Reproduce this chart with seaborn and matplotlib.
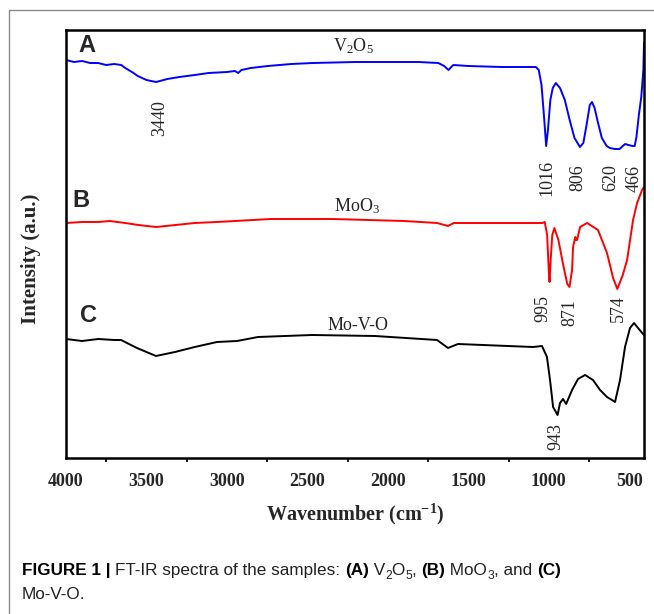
import numpy as np
import pandas as pd
import matplotlib
matplotlib.use("Agg")
import matplotlib.pyplot as plt
import seaborn as sns
from matplotlib.lines import Line2D

# ---------------- data (intensity in arbitrary units) ----------------
wn_A = [4000, 3950, 3900, 3850, 3800, 3750, 3700, 3657, 3632, 3590, 3554, 3500, 3440, 3370,
        3295, 3200, 3114, 3000, 2950, 2930, 2910, 2852, 2746, 2600, 2465, 2203, 2000, 1810,
        1686, 1650, 1623, 1600, 1592, 1500, 1293, 1137, 1080, 1062, 1045, 1030, 1016, 1005,
        990, 975, 956, 930, 900, 870, 840, 806, 785, 765, 745, 731, 715, 695, 670, 640, 620,
        590, 560, 540, 525, 505, 480, 466, 455, 440, 425, 412, 408]
int_A = [398, 396, 397, 395, 395, 393, 394, 393, 390, 386, 382, 378, 376, 379,
         381, 383, 385, 386, 387, 385, 388, 390, 392, 394, 395, 396, 396, 396,
         395, 392, 388, 392, 393, 392, 391, 391, 391, 388, 373, 343, 312, 328,
         358, 370, 375, 370, 358, 338, 320, 311, 315, 333, 353, 356, 350, 336, 320, 312, 310,
         309, 309, 312, 314, 313, 312, 312, 321, 343, 361, 388, 415]

wn_B = [4000, 3900, 3800, 3727, 3632, 3550, 3440, 3320, 3200, 3062, 2726, 2341, 1900, 1694,
        1626, 1590, 1300, 1040, 1025, 1010, 1000, 995, 988, 978, 965, 940, 910, 885, 871,
        855, 849, 835, 830, 824, 805, 762, 694, 638, 600, 574, 540, 513, 476, 451, 420, 408]
int_B = [235, 236, 236, 237, 235, 233, 231, 233, 235, 236, 239, 239, 237, 235,
         232, 235, 235, 235, 236, 223, 188, 176, 198, 223, 230, 218, 193, 174, 171,
         188, 211, 221, 218, 218, 231, 235, 228, 205, 180, 169, 183, 198, 238, 255, 268, 271]

wn_C = [4000, 3900, 3800, 3700, 3658, 3559, 3441, 3323, 3200, 3062, 2937, 2807, 2471, 2080,
        1694, 1626, 1564, 1098, 1042, 1011, 992, 973, 945, 930, 911, 892, 855, 818, 774,
        725, 681, 638, 607, 588, 557, 526, 495, 470, 445, 414, 408]
int_C = [119, 117, 119, 118, 118, 110, 102, 106, 111, 116, 117, 121, 123, 122,
         118, 110, 114, 111, 112, 101, 78, 51, 43, 55, 59, 54, 68, 79, 83,
         78, 68, 61, 58, 56, 78, 111, 130, 135, 130, 124, 123]

series_names = ["V$_2$O$_5$", "MoO$_3$", "Mo-V-O"]
panel_letters = ["A", "B", "C"]
line_colors = ["#0000ff", "#ff0000", "#000000"]
x_ticks = [4000, 3500, 3000, 2500, 2000, 1500, 1000, 500]

peak_labels = [("3440", 3416, 340), ("1016", 1014, 280), ("806", 820, 280),
               ("620", 614, 280), ("466", 470, 280),
               ("995", 1035, 149), ("871", 868, 145), ("574", 569, 149),
               ("943", 955, 22)]

# ---------------- style ----------------
sns.set_theme(style="white")
plt.rcParams["font.family"] = ["Liberation Serif", "DejaVu Serif"]
plt.rcParams["mathtext.fontset"] = "custom"
plt.rcParams["mathtext.rm"] = "Liberation Serif"
plt.rcParams["mathtext.it"] = "Liberation Serif:italic"
plt.rcParams["mathtext.bf"] = "Liberation Serif:bold"

W, H = 654, 614
fig = plt.figure(figsize=(W / 100, H / 100), dpi=100)
L, R, T, B = 66, 644, 30, 458
ax = fig.add_axes([L / W, 1 - B / H, (R - L) / W, (B - T) / H])

for wn, yv, c in zip([wn_A, wn_B, wn_C], [int_A, int_B, int_C], line_colors):
    df = pd.DataFrame({"wn": wn, "I": yv})
    sns.lineplot(data=df, x="wn", y="I", color=c, linewidth=1.4, ax=ax, sort=False)

ax.set_xlim(4000, 408)
ax.set_ylim(0, 428)
ax.set_yticks([])
ax.set_xticks(x_ticks)
ax.set_xticklabels([str(t) for t in x_ticks], fontsize=13, fontweight="bold")
ax.xaxis.set_minor_locator(matplotlib.ticker.MultipleLocator(250))
ax.tick_params(axis="x", which="major", direction="out", length=6, width=1.5, pad=5, color="black")
ax.tick_params(axis="x", which="minor", direction="out", length=3, width=1.5, bottom=True)
for s in ax.spines.values():
    s.set_linewidth(1.8)
    s.set_color("black")

ax.set_xlabel(r"Wavenumber (cm$^{\mathbf{-1}}$)", fontsize=14.5, fontweight="bold")
ax.xaxis.set_label_coords(0.5, (B - 514) / (B - T))
ax.xaxis.label.set_va("center")
ax.set_ylabel("Intensity (a.u.)", fontsize=15, fontweight="bold")
ax.yaxis.set_label_coords((31 - L) / (R - L), (B - 259) / (B - T))
ax.yaxis.label.set_va("center")

# panel letters and names
letter_pos = [(3869, 413), (3907, 258), (3863, 143)]
name_pos = [(2216, 412), (2191, 252), (2185, 133)]
for (lx, ly), lt, (nx, ny), nm in zip(letter_pos, panel_letters, name_pos, series_names):
    ax.text(lx, ly, lt, fontsize=17, fontweight="bold", family=["Liberation Sans"],
            ha="center", va="center")
    ax.text(nx, ny, nm, fontsize=13, ha="center", va="center")

for s, x, y in peak_labels:
    ax.text(x, y, s, fontsize=13, rotation=90, ha="center", va="center")

# ---------------- outer frame ----------------
fig.add_artist(Line2D([9 / W, 1], [1 - 10 / H, 1 - 10 / H], transform=fig.transFigure,
                      color="#8a8a8a", lw=1.0))
fig.add_artist(Line2D([9 / W, 9 / W], [0, 1 - 10 / H], transform=fig.transFigure,
                      color="#8a8a8a", lw=1.0))

# ---------------- caption ----------------
cap_size = 12.3
sans = ["Liberation Sans", "DejaVu Sans"]
cap_color = "#222222"
pieces = [("FIGURE 1 | ", "bold", 0), ("FT-IR spectra of the samples: ", "normal", 0),
          ("(A)", "bold", 0), (" V", "normal", 0), ("2", "normal", -1), ("O", "normal", 0),
          ("5", "normal", -1), (", ", "normal", 0), ("(B)", "bold", 0), (" MoO", "normal", 0),
          ("3", "normal", -1), (", and ", "normal", 0), ("(C)", "bold", 0)]
first = fig.text(22 / W, 1 - 575 / H, pieces[0][0], fontsize=cap_size, fontweight="bold",
                 family=sans, color="black", va="baseline", ha="left")
prev = first
for txt, wt, sub in pieces[1:]:
    if sub:
        prev = ax.annotate(txt, xy=(1, 0), xycoords=(prev, first), xytext=(0, -3),
                           textcoords="offset points", fontsize=cap_size * 0.7, family=sans,
                           color=cap_color, va="bottom", ha="left", annotation_clip=False)
    else:
        prev = ax.annotate(txt, xy=(1, 0), xycoords=(prev, first), xytext=(0, 0),
                           textcoords="offset points", fontsize=cap_size, family=sans,
                           fontweight=wt, color="black" if wt == "bold" else cap_color,
                           va="bottom", ha="left", annotation_clip=False)
fig.text(22 / W, 1 - 599 / H, "Mo-V-O.", fontsize=cap_size, family=sans, color=cap_color,
         va="baseline", ha="left")

fig.savefig("out.png", dpi=100)
